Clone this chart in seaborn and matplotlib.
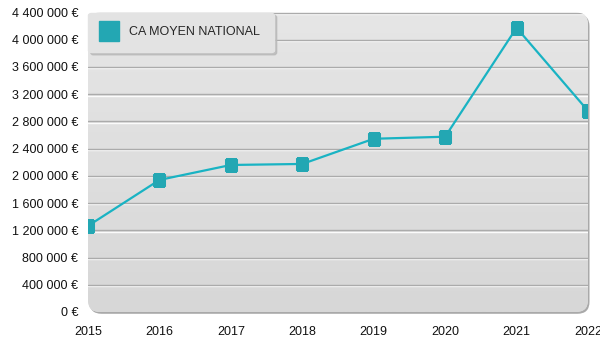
import numpy as np
import pandas as pd
import matplotlib
matplotlib.use("Agg")
import matplotlib.pyplot as plt
import matplotlib.patheffects as pe
from matplotlib.patches import FancyBboxPatch
from matplotlib.colors import LinearSegmentedColormap
from matplotlib.lines import Line2D
from matplotlib.ticker import FuncFormatter, MultipleLocator
import seaborn as sns

years = [2015, 2016, 2017, 2018, 2019, 2020, 2021, 2022]
ca_moyen = [1265000, 1940000, 2160000, 2175000, 2545000, 2575000, 4175000, 2955000]
series_label = "CA MOYEN NATIONAL"

df = pd.DataFrame({"annee": years, "ca": ca_moyen})

sns.set_theme(style="white")
plt.rcParams["font.family"] = ["Liberation Sans", "DejaVu Sans"]

line_color = "#19b3c3"
marker_color = "#23a7b3"

fig = plt.figure(figsize=(6, 3.5), dpi=100)
ax = fig.add_axes([88 / 600, 38 / 350, 500 / 600, 299.5 / 350])
ax.patch.set_visible(False)
for s in ax.spines.values():
    s.set_visible(False)

aspect = (500 / 300)
# drop shadow behind the rounded plotting area
shadow = FancyBboxPatch((0.003, -0.006), 1.0, 1.0, boxstyle="round,pad=0,rounding_size=0.024",
                        mutation_aspect=aspect, transform=ax.transAxes,
                        facecolor="#a9a9a9", edgecolor="none", zorder=0, clip_on=False)
ax.add_patch(shadow)
panel = FancyBboxPatch((0, 0), 1.0, 1.0, boxstyle="round,pad=0,rounding_size=0.024",
                       mutation_aspect=aspect, transform=ax.transAxes,
                       facecolor="#dedede", edgecolor="none", zorder=0.1, clip_on=False)
ax.add_patch(panel)

# vertical gradient fill of the panel
cmap = LinearSegmentedColormap.from_list("bg", ["#d7d7d7", "#e6e6e6"])
grad = np.linspace(0, 1, 256).reshape(-1, 1)
im = ax.imshow(grad, extent=[0, 1, 0, 1], transform=ax.transAxes, origin="lower",
               aspect="auto", cmap=cmap, zorder=0.2)
im.set_clip_path(panel)

sns.lineplot(data=df, x="annee", y="ca", ax=ax, color=line_color, linewidth=1.6,
             marker="s", markersize=8, markerfacecolor=marker_color,
             markeredgecolor=marker_color, zorder=3)
for ln in ax.lines:
    ln.set_clip_path(panel)

ax.set_xlim(2015, 2022)
ax.set_ylim(0, 4400000)
ax.xaxis.set_major_locator(MultipleLocator(1))
ax.yaxis.set_major_locator(MultipleLocator(400000))
ax.yaxis.set_major_formatter(FuncFormatter(
    lambda v, p: f"{int(round(v)):,}".replace(",", " ") + " €"))
ax.xaxis.set_major_formatter(FuncFormatter(lambda v, p: f"{int(round(v))}"))
ax.tick_params(axis="both", length=0, labelsize=9, colors="#111111")
ax.tick_params(axis="y", pad=7)
ax.tick_params(axis="x", pad=10)
ax.set_xlabel("")
ax.set_ylabel("")

# horizontal grid lines with a light emboss underneath
for v in np.arange(400000, 4400001, 400000):
    gl = ax.axhline(v, color="#ababab", linewidth=1.0, zorder=1,
                    path_effects=[pe.SimpleLineShadow(offset=(0, -1), shadow_color="white", alpha=0.9),
                                  pe.Normal()])
    gl.set_clip_path(panel)

handle = Line2D([], [], marker="s", linestyle="none", markersize=14,
                markerfacecolor=marker_color, markeredgecolor=marker_color)
leg = ax.legend([handle], [series_label], loc="upper left", bbox_to_anchor=(0.0, 1.0),
                frameon=True, fancybox=True, shadow={"color": "#b8b8b8", "alpha": 0.8},
                fontsize=9, handlelength=1.2, handletextpad=1.0, borderpad=1.1,
                borderaxespad=0.0, facecolor="#e3e3e3", edgecolor="#e3e3e3", framealpha=1)
leg.set_zorder(5)

fig.savefig("out.png", dpi=100)
